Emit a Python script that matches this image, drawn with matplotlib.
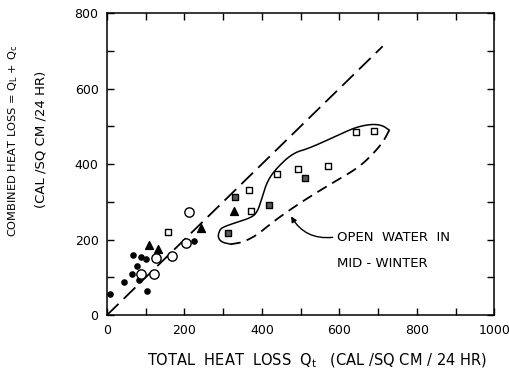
import numpy as np
import matplotlib
matplotlib.use('Agg')
import matplotlib.pyplot as plt

plt.rcParams['font.family'] = ['DejaVu Sans']
plt.rcParams['mathtext.default'] = 'regular'

# Data (cal / sq cm / 24 hr)
dots_x = [8, 45, 66, 68, 79, 82, 88, 101, 103, 226]
dots_y = [55, 89, 109, 159, 131, 93, 153, 148, 64, 196]

circles_x = [88, 121, 127, 168, 205, 211]
circles_y = [109, 109, 151, 157, 190, 272]

triangles_x = [108, 133, 243, 327]
triangles_y = [187, 176, 231, 276]

open_sq_x = [157, 367, 371, 440, 493, 572, 643, 690]
open_sq_y = [220, 331, 276, 373, 387, 394, 486, 488]

dark_sq_x = [313, 332, 418, 512]
dark_sq_y = [218, 312, 292, 364]

# 1:1 line
line_x = [0, 712]

# outline around the open-water points
outline_solid_x = [320, 296, 286, 291, 299, 335, 369, 387, 399, 412, 433, 479, 523, 608, 644, 683, 711, 729]
outline_solid_y = [188, 193, 207, 225, 233, 246, 257, 270, 305, 350, 384, 429, 442, 482, 498, 506, 503, 490]
outline_dash_x = [729, 716, 696, 652, 582, 523, 490, 446, 412, 387, 351, 320]
outline_dash_y = [490, 464, 437, 392, 350, 313, 291, 260, 233, 212, 193, 188]


def chaikin(xs, ys, n=3):
    # corner cutting to round off the hand-drawn outline
    p = np.column_stack([xs, ys]).astype(float)
    for _ in range(n):
        q = 0.75 * p[:-1] + 0.25 * p[1:]
        r = 0.25 * p[:-1] + 0.75 * p[1:]
        mid = np.empty((2 * len(q), 2))
        mid[0::2] = q
        mid[1::2] = r
        p = np.vstack([p[:1], mid, p[-1:]])
    return p[:, 0], p[:, 1]


fig = plt.figure(figsize=(5.09, 3.73), dpi=100)
ax = fig.add_axes([0.210, 0.155, 0.761, 0.81])

ax.plot(line_x, line_x, color='black', lw=1.3, dashes=(9, 4))

sx, sy = chaikin(outline_solid_x, outline_solid_y)
dx, dy = chaikin(outline_dash_x, outline_dash_y)
ax.plot(sx, sy, color='black', lw=1.1)
ax.plot(dx, dy, color='black', lw=1.3, dashes=(6, 3.5))

ax.scatter(dots_x, dots_y, s=14, color='black', zorder=3)
ax.scatter(circles_x, circles_y, s=45, facecolor='white', edgecolor='black', lw=1.0, zorder=3)
ax.scatter(triangles_x, triangles_y, s=32, marker='^', color='black', zorder=3)
ax.scatter(open_sq_x, open_sq_y, s=22, marker='s', facecolor='white', edgecolor='black', lw=1.0, zorder=3)
ax.scatter(dark_sq_x, dark_sq_y, s=22, marker='s', facecolor='0.35', edgecolor='black', lw=1.0, zorder=3)

ax.annotate('', xy=(472, 268), xytext=(590, 207),
            arrowprops=dict(arrowstyle='-|>', color='black', lw=1.0,
                            mutation_scale=8,
                            connectionstyle='arc3,rad=-0.35'))
ax.text(593, 207, 'OPEN  WATER  IN', fontsize=9.5, va='center', ha='left')
ax.text(593, 138, 'MID - WINTER', fontsize=9.5, va='center', ha='left')

ax.set_xlim(0, 1000)
ax.set_ylim(0, 800)
ax.set_xticks(range(0, 1001, 200))
ax.set_yticks(range(0, 801, 200))
ax.set_xticks(range(100, 1000, 200), minor=True)
ax.set_yticks(range(100, 800, 200), minor=True)
ax.tick_params(which='both', direction='in', top=True, right=True, length=5, width=1.0, labelsize=9, pad=6)
ax.tick_params(which='minor', length=5)
for s in ax.spines.values():
    s.set_linewidth(1.1)

ax.set_xlabel('TOTAL  HEAT  LOSS  Q$_t$   (CAL /SQ CM / 24 HR)', fontsize=10.5)
ax.xaxis.set_label_coords(0.5425, -0.12)
fig.text(0.026, 0.622, 'COMBINED HEAT LOSS = Q$_L$ + Q$_c$', rotation=90,
         fontsize=8.2, ha='center', va='center')
fig.text(0.08, 0.625, '(CAL /SQ CM /24 HR)', rotation=90,
         fontsize=9.5, ha='center', va='center')

fig.savefig('out.png', dpi=100)
